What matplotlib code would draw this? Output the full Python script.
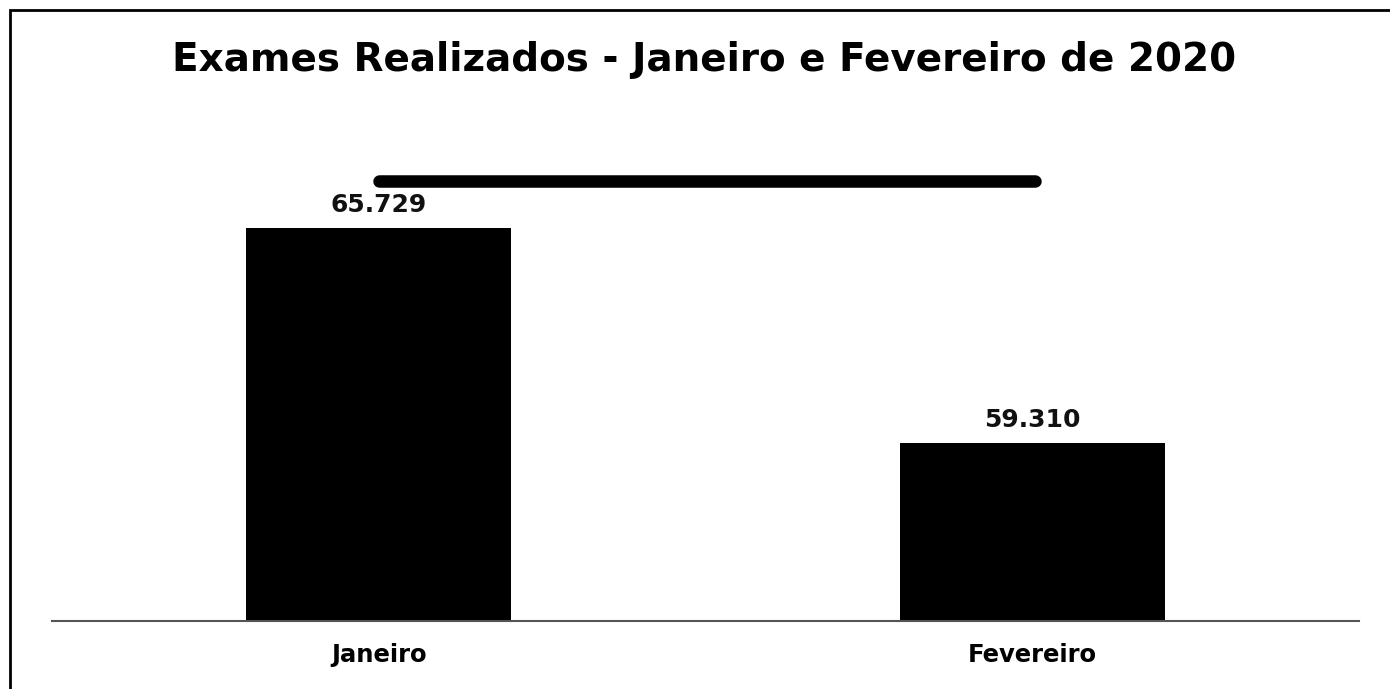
import matplotlib.pyplot as plt
from matplotlib.lines import Line2D
from matplotlib.patches import Rectangle

# dados
meses = ["Janeiro", "Fevereiro"]
exames = [65729, 59310]
rotulos = ["65.729", "59.310"]

W, H = 1390, 689
fig = plt.figure(figsize=(W / 100, H / 100), dpi=100)

# eixo: de x=52 a 1359 px, base em y=621 px
ax = fig.add_axes([52 / W, (H - 621) / H, (1359 - 52) / W, (621 - 152) / H])
ax.bar(range(len(meses)), exames, width=0.405, color="black")
ax.set_xlim(-0.5, 1.5)
ax.set_ylim(54000, 68000)

for i, (v, r) in enumerate(zip(exames, rotulos)):
    ax.annotate(r, (i, v), xytext=(0, 8), textcoords="offset points",
                ha="center", va="bottom", fontsize=18, fontweight="bold",
                color="#111111")

ax.set_xticks(range(len(meses)))
ax.set_xticklabels(meses, fontsize=17.5, fontweight="bold")
ax.tick_params(axis="x", length=0, pad=16)
ax.set_yticks([])
for s in ["top", "right", "left"]:
    ax.spines[s].set_visible(False)
ax.spines["bottom"].set_color("#555555")
ax.spines["bottom"].set_linewidth(1.5)

fig.text(704 / W, 1 - 60 / H, "Exames Realizados - Janeiro e Fevereiro de 2020",
         ha="center", va="center", fontsize=28, fontweight="bold")

# risco grosso acima das barras
fig.add_artist(Line2D([379 / W, 1035 / W], [1 - 181 / H, 1 - 181 / H],
                      color="black", linewidth=9, solid_capstyle="round"))

# moldura
fig.add_artist(Rectangle((10 / W, -0.05), 1.1, 1 - 10 / H + 0.05,
                         fill=False, edgecolor="black", linewidth=2))

fig.savefig("out.png", dpi=100)
